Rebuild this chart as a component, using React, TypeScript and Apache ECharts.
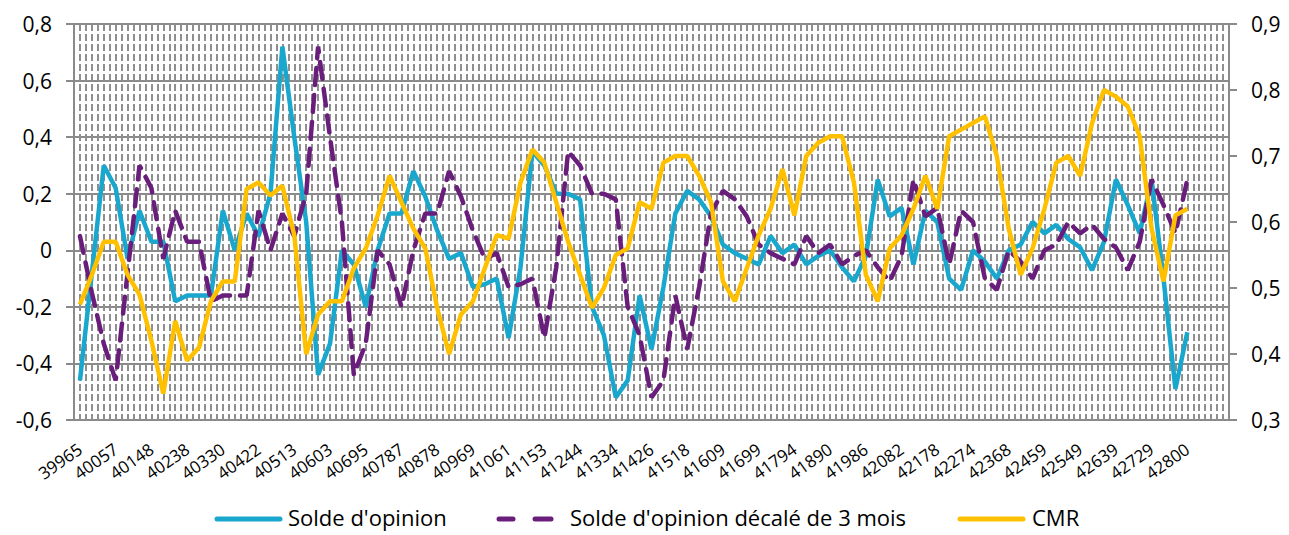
import { useEffect, useRef } from 'react';
import * as echarts from 'echarts';

const tickLabels = [
  '39965', '40057', '40148', '40238', '40330', '40422', '40513', '40603', '40695', '40787',
  '40878', '40969', '41061', '41153', '41244', '41334', '41426', '41518', '41609', '41699',
  '41794', '41890', '41986', '42082', '42178', '42274', '42368', '42459', '42549', '42639',
  '42729', '42800',
];
const categoryCount = 97;
const categories = Array.from({ length: categoryCount }, (_, i) =>
  i % 3 === 0 && tickLabels[i / 3] ? tickLabels[i / 3] : ''
);

const seriesNames = ["Solde d'opinion", "Solde d'opinion décalé de 3 mois", 'CMR'];

const solde = [
  -0.46, -0.08, 0.30, 0.22, -0.03, 0.14, 0.03, 0.03, -0.18, -0.16,
  -0.16, -0.16, 0.14, 0.00, 0.13, 0.05, 0.20, 0.72, 0.40, 0.10,
  -0.44, -0.33, 0.00, -0.05, -0.20, 0.00, 0.13, 0.13, 0.28, 0.19,
  0.07, -0.03, -0.01, -0.13, -0.12, -0.10, -0.31, -0.06, 0.35, 0.30,
  0.20, 0.20, 0.18, -0.20, -0.30, -0.52, -0.46, -0.16, -0.35, -0.13,
  0.13, 0.21, 0.18, 0.12, 0.02, -0.01, -0.03, -0.05, 0.05, -0.01,
  0.02, -0.05, -0.02, 0.00, -0.06, -0.11, -0.02, 0.25, 0.12, 0.15,
  -0.05, 0.14, 0.10, -0.10, -0.14, 0.00, -0.04, -0.10, 0.00, 0.02,
  0.10, 0.06, 0.09, 0.04, 0.01, -0.07, 0.03, 0.25, 0.16, 0.06,
  0.25, -0.10, -0.49, -0.29,
];
// the three months before the first "Solde d'opinion" value
const soldeAvant = [0.05, -0.15, -0.33];
const soldeDecale = [...soldeAvant, ...solde.slice(0, solde.length - 3)];

const cmr = [
  0.475, 0.52, 0.57, 0.57, 0.52, 0.49, 0.42, 0.34, 0.45, 0.39,
  0.41, 0.48, 0.51, 0.51, 0.65, 0.66, 0.64, 0.655, 0.58, 0.40,
  0.46, 0.48, 0.48, 0.53, 0.56, 0.61, 0.67, 0.63, 0.59, 0.56,
  0.47, 0.40, 0.46, 0.48, 0.53, 0.58, 0.575, 0.66, 0.71, 0.69,
  0.63, 0.57, 0.52, 0.47, 0.50, 0.55, 0.56, 0.63, 0.62, 0.69,
  0.70, 0.70, 0.67, 0.63, 0.51, 0.48, 0.53, 0.58, 0.62, 0.68,
  0.61, 0.70, 0.72, 0.73, 0.73, 0.66, 0.52, 0.48, 0.56, 0.58,
  0.62, 0.67, 0.62, 0.73, 0.74, 0.75, 0.76, 0.70, 0.59, 0.52,
  0.56, 0.62, 0.69, 0.70, 0.67, 0.75, 0.80, 0.79, 0.775, 0.73,
  0.59, 0.51, 0.61, 0.62,
];

const FONT = "'Open Sans', 'Liberation Sans', sans-serif";
const GRID_GREY = '#8a8a8a';
const CYAN = '#19A7CE';
const PURPLE = '#6A1E7C';
const YELLOW = '#FFC000';
const LINE_W = 4.5;

const fmt = (v: number) => {
  const r = Math.round(v * 10) / 10;
  if (r === 0) return '0';
  return r.toFixed(1).replace('.', ',');
};

export default function App() {
  const ref = useRef<HTMLDivElement>(null);
  useEffect(() => {
    document.body.style.margin = '0';
    const chart = echarts.init(ref.current!, null, { renderer: 'svg' });
    const textY = 517;
    const lineY = 519;
    const textStyle = { fontFamily: FONT, fontSize: 22, fill: '#000', verticalAlign: 'middle', align: 'left' };
    chart.setOption({
      animation: false,
      backgroundColor: '#ffffff',
      grid: { left: 74, right: 60, top: 24, bottom: 115 },
      graphic: [
        {
          type: 'line',
          shape: { x1: 217, y1: lineY, x2: 280, y2: lineY },
          style: { stroke: CYAN, lineWidth: 5, lineCap: 'round' },
        },
        { type: 'text', x: 288, y: textY, style: { ...textStyle, text: seriesNames[0] } },
        {
          type: 'line',
          shape: { x1: 499, y1: lineY, x2: 513, y2: lineY },
          style: { stroke: PURPLE, lineWidth: 5, lineCap: 'round' },
        },
        {
          type: 'line',
          shape: { x1: 535, y1: lineY, x2: 551, y2: lineY },
          style: { stroke: PURPLE, lineWidth: 5, lineCap: 'round' },
        },
        { type: 'text', x: 570, y: textY, style: { ...textStyle, text: seriesNames[1] } },
        {
          type: 'line',
          shape: { x1: 960, y1: lineY, x2: 1023, y2: lineY },
          style: { stroke: YELLOW, lineWidth: 5, lineCap: 'round' },
        },
        { type: 'text', x: 1032, y: textY, style: { ...textStyle, text: seriesNames[2] } },
      ],
      xAxis: [
        {
          type: 'category',
          data: categories,
          boundaryGap: true,
          axisLine: { lineStyle: { color: GRID_GREY, width: 2 } },
          axisTick: { show: false },
          axisLabel: {
            interval: 0,
            rotate: 35,
            fontFamily: FONT,
            fontSize: 17,
            color: '#000',
            margin: 27,
          },
          splitLine: { show: false },
        },
        {
          type: 'value',
          min: 0,
          max: categoryCount * 2,
          interval: 1,
          position: 'bottom',
          axisLine: { show: false },
          axisTick: { show: false },
          axisLabel: { show: false },
          splitLine: {
            show: true,
            lineStyle: { color: '#8f8f8f', width: 2, type: [7, 3] },
          },
        },
      ],
      yAxis: [
        {
          type: 'value',
          min: -0.6,
          max: 0.8,
          interval: 0.2,
          position: 'left',
          axisLine: { show: true, lineStyle: { color: GRID_GREY, width: 2 } },
          axisTick: { show: true, length: 8, lineStyle: { color: GRID_GREY, width: 2 } },
          axisLabel: { formatter: fmt, fontFamily: FONT, fontSize: 21, color: '#000', margin: 22 },
          splitLine: { show: true, lineStyle: { color: GRID_GREY, width: 2 } },
        },
        {
          type: 'value',
          min: 0.3,
          max: 0.9,
          interval: 0.1,
          position: 'right',
          axisLine: { show: true, lineStyle: { color: GRID_GREY, width: 2 } },
          axisTick: { show: true, length: 8, lineStyle: { color: GRID_GREY, width: 2 } },
          axisLabel: { formatter: fmt, fontFamily: FONT, fontSize: 21, color: '#000', margin: 22 },
          splitLine: { show: false },
        },
      ],
      series: [
        {
          name: seriesNames[0],
          type: 'line',
          data: solde,
          xAxisIndex: 0,
          yAxisIndex: 0,
          symbol: 'none',
          itemStyle: { color: CYAN },
          lineStyle: { color: CYAN, width: LINE_W },
        },
        {
          name: seriesNames[1],
          type: 'line',
          data: soldeDecale,
          xAxisIndex: 0,
          yAxisIndex: 0,
          symbol: 'none',
          itemStyle: { color: PURPLE },
          lineStyle: { color: PURPLE, width: LINE_W, type: [17, 10], cap: 'round' },
        },
        {
          name: seriesNames[2],
          type: 'line',
          data: cmr,
          xAxisIndex: 0,
          yAxisIndex: 1,
          symbol: 'none',
          itemStyle: { color: YELLOW },
          lineStyle: { color: YELLOW, width: LINE_W },
        },
      ],
    });
    return () => chart.dispose();
  }, []);
  return <div ref={ref} style={{ width: 1289, height: 535 }} />;
}
